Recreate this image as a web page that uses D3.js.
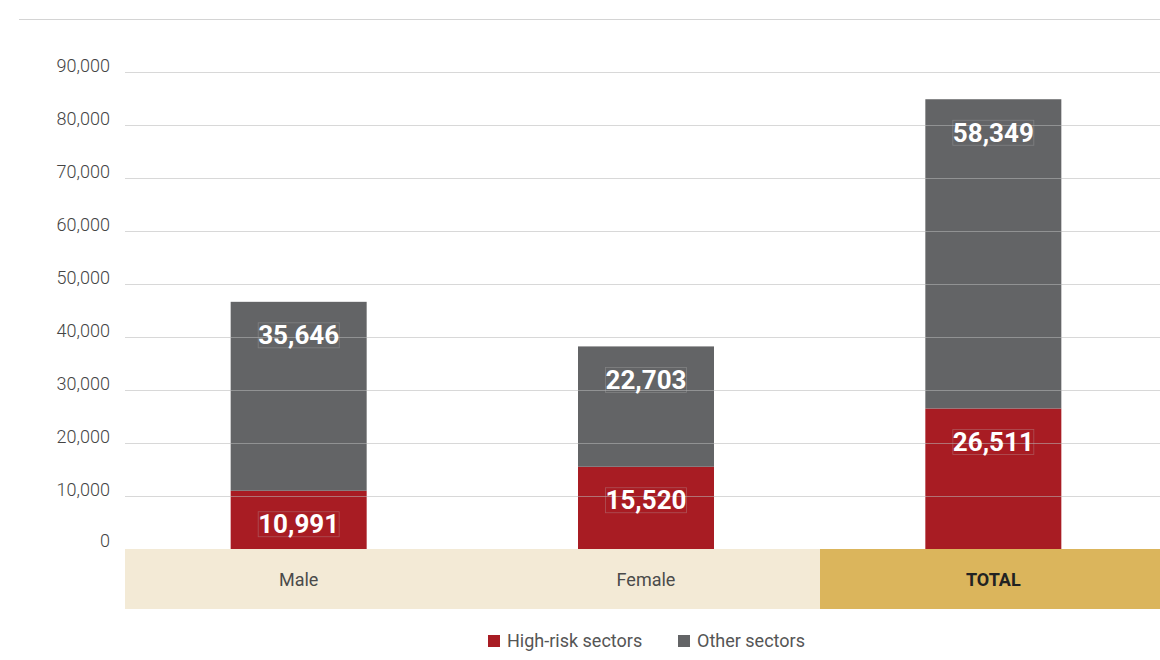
<!DOCTYPE html>
<html><head><meta charset="utf-8">
<script src="https://cdn.jsdelivr.net/npm/d3@7"></script>
<style>
html,body{margin:0;padding:0;background:#fff;}
svg{display:block;font-family:Roboto,"Noto Sans",sans-serif;}
</style></head>
<body><svg id="chart" width="1160" height="660"></svg>
<script>
const categories = ["Male", "Female", "TOTAL"];
const highRisk = [10991, 15520, 26511];
const otherSectors = [35646, 22703, 58349];
const seriesNames = ["High-risk sectors", "Other sectors"];
const yTicks = [0, 10000, 20000, 30000, 40000, 50000, 60000, 70000, 80000, 90000];

const colors = {high: "#a81c23", other: "#636466"};
const svg = d3.select("#chart");

const x = d3.scaleBand().domain(categories).range([125, 1167]).padding(0);
const y = d3.scaleLinear().domain([0, 90000]).range([549, 72]);
const barW = 136;
const fmt = d3.format(",");

// top rule
svg.append("line").attr("x1", 19).attr("x2", 1160).attr("y1", 19.5).attr("y2", 19.5)
  .attr("stroke", "#d4d4d4").attr("stroke-width", 1);

// category band
svg.append("g").selectAll("rect").data(categories).join("rect")
  .attr("x", d => Math.round(x(d))).attr("y", 549)
  .attr("width", d => Math.round(x(d) + x.bandwidth()) - Math.round(x(d)) + (d === "TOTAL" ? 0 : 1))
  .attr("height", 60)
  .attr("fill", d => d === "TOTAL" ? "#dbb55c" : "#f3ead6");
svg.append("g").selectAll("text").data(categories).join("text")
  .attr("x", d => x(d) + x.bandwidth() / 2).attr("y", 586)
  .attr("text-anchor", "middle")
  .attr("font-size", 18)
  .attr("font-weight", d => d === "TOTAL" ? 700 : 400)
  .attr("fill", d => d === "TOTAL" ? "#222" : "#4a4a4a")
  .text(d => d);

// bars
const data = categories.map((c, i) => ({cat: c, high: highRisk[i], other: otherSectors[i]}));
const stack = d3.stack().keys(["high", "other"])(data);
const gBars = svg.append("g");
stack.forEach(layer => {
  gBars.selectAll(null).data(layer).join("rect")
    .attr("x", d => x(d.data.cat) + x.bandwidth() / 2 - barW / 2)
    .attr("y", d => y(d[1]))
    .attr("width", barW)
    .attr("height", d => y(d[0]) - y(d[1]))
    .attr("fill", colors[layer.key]);
});

// y axis labels
const yAxis = d3.axisLeft(y).tickValues(yTicks).tickFormat(fmt).tickSize(0).tickPadding(0);
const gy = svg.append("g").attr("transform", "translate(110,0)").call(yAxis);
gy.select(".domain").remove();
gy.selectAll("text").attr("font-family", "Roboto").attr("font-size", 18).attr("font-weight", 300)
  .attr("fill", "#444").attr("dy", "-0.05em");
gy.selectAll("text").attr("transform", d => d === 0 ? "translate(0,-2)" : null);

// grid lines (drawn over bars, translucent)
const grid = svg.append("g");
grid.selectAll("line").data(yTicks.filter(d => d > 0)).join("line")
  .attr("x1", 125).attr("x2", 1160)
  .attr("y1", d => Math.round(y(d)) + 0.5).attr("y2", d => Math.round(y(d)) + 0.5)
  .attr("stroke", "#b8b8b8").attr("stroke-opacity", 0.55).attr("stroke-width", 1);

// value labels
stack.forEach(layer => {
  const g = svg.append("g");
  layer.forEach(d => {
    const cx = x(d.data.cat) + x.bandwidth() / 2;
    const cy = y(d[1]) + 33;
    const t = g.append("text").attr("x", cx).attr("y", cy).attr("dy", "0.36em")
      .attr("text-anchor", "middle").attr("font-size", 26).attr("font-weight", 700)
      .attr("fill", "#fff").text(fmt(d.data[layer.key]));
    const bb = t.node().getBBox();
    g.insert("rect", "text").attr("x", bb.x).attr("y", cy - 12).attr("width", bb.width).attr("height", 25)
      .attr("fill", "none").attr("stroke", "#bbb").attr("stroke-opacity", 0.35).attr("stroke-width", 0.8);
  });
});

// legend
const legend = svg.append("g");
const legX = [488, 678];
seriesNames.forEach((n, i) => {
  legend.append("rect").attr("x", legX[i]).attr("y", 635).attr("width", 12).attr("height", 12)
    .attr("fill", i === 0 ? colors.high : colors.other);
  legend.append("text").attr("x", legX[i] + 19).attr("y", 647).attr("font-size", 18)
    .attr("font-weight", 400).attr("fill", "#555").text(n);
});
</script></body></html>
